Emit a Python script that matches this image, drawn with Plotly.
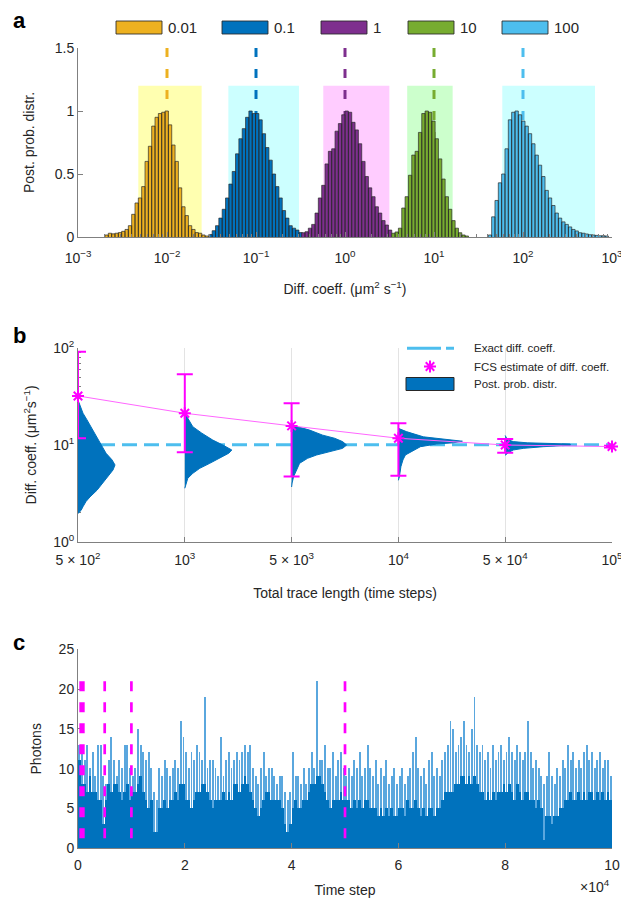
import plotly.graph_objects as go

FONT = "Liberation Sans"
TXT = "#262626"
AXC = "#808080"
OFF = 8                      # page body margin of the html page
W, H = 629 - OFF, 898 - OFF  # figure size
ML, MR = 78 - OFF, 629 - 612
PW = W - ML - MR

# ---------------- Panel a data ----------------
A_LABELS = ["0.01", "0.1", "1", "10", "100"]
A_TRUE = [0.01, 0.1, 1, 10, 100]
A_COLORS = ["#EDB120", "#0072BD", "#7E2F8E", "#77AC30", "#4DBEEE"]
A_SHADE = ["#FFFFB0", "#CCFFFF", "#FFCCFF", "#CCFFCC", "#CCFFFF"]
A_SHADE_LO = [0.00476, 0.0489, 0.57, 5.0, 58.5]
A_SHADE_HI = [0.0245, 0.304, 3.15, 16.2, 644.0]
A_SHADE_TOP = 1.2
A_BIN_START = [-2.697, -1.53, -0.487, 0.525, 1.610]   # log10 of first bin edge
A_BIN_WIDTH = 0.0375                                    # decades
A_HIST_001 = [0.016, 0.03, 0.025, 0.03, 0.035, 0.045, 0.06, 0.09, 0.18, 0.27, 0.31, 0.40,
              0.60, 0.72, 0.88, 0.95, 0.98, 0.99, 1.0, 0.89, 0.73, 0.60, 0.39, 0.24, 0.17,
              0.09, 0.06, 0.035, 0.03, 0.016, 0.008]
A_HIST_01 = [0.02, 0.05, 0.09, 0.15, 0.22, 0.31, 0.42, 0.52, 0.66, 0.78, 0.86, 0.95, 1.0,
             0.98, 0.98, 0.93, 0.82, 0.71, 0.61, 0.50, 0.40, 0.31, 0.21, 0.15, 0.09, 0.07,
             0.055, 0.035, 0.02]
A_HIST_1 = [0.034, 0.042, 0.07, 0.10, 0.19, 0.31, 0.41, 0.58, 0.68, 0.70, 0.84, 0.90, 0.97,
            1.0, 0.99, 0.91, 0.85, 0.74, 0.60, 0.48, 0.39, 0.32, 0.24, 0.19, 0.13, 0.095, 0.055]
A_HIST_10 = [0.03, 0.04, 0.07, 0.23, 0.32, 0.49, 0.65, 0.68, 0.83, 0.98, 1.0, 0.99, 0.92,
             0.78, 0.62, 0.46, 0.32, 0.22, 0.13, 0.07, 0.034, 0.016, 0.008]
A_HIST_100 = [0.016, 0.16, 0.29, 0.43, 0.50, 0.70, 0.93, 0.99, 1.0, 0.97, 0.92, 0.88, 0.82,
              0.74, 0.65, 0.57, 0.48, 0.37, 0.31, 0.25, 0.19, 0.15, 0.12, 0.10, 0.08, 0.06,
              0.048, 0.034, 0.03, 0.024, 0.018, 0.016, 0.013, 0.01, 0.01, 0.008]
A_HISTS = [A_HIST_001, A_HIST_01, A_HIST_1, A_HIST_10, A_HIST_100]
A_XTICKS = [1e-3, 1e-2, 1e-1, 1e0, 1e1, 1e2, 1e3]
A_XTICKTEXT = ["10<sup>−3</sup>", "10<sup>−2</sup>", "10<sup>−1</sup>", "10<sup>0</sup>",
               "10<sup>1</sup>", "10<sup>2</sup>", "10<sup>3</sup>"]

# ---------------- Panel b data ----------------
B_LENGTHS = [500, 1000, 5000, 10000, 50000, 100000]
B_TICKTEXT = ["5 × 10<sup>2</sup>", "10<sup>3</sup>", "5 × 10<sup>3</sup>", "10<sup>4</sup>",
              "5 × 10<sup>4</sup>", "10<sup>5</sup>"]
B_EXACT = 10.0
B_FCS = [32.0, 21.2, 15.7, 11.7, 9.96, 9.6]
B_FCS_HI = [91.6, 53.5, 26.9, 16.7, 11.5, 9.8]
B_FCS_LO = [11.7, 8.4, 4.7, 4.8, 8.3, 9.4]
# posterior histograms (value, relative density) for the first five trace lengths
B_HIST_D = [
    [29.0, 21.2, 18.1, 14.2, 11.2, 9.6, 8.2, 7.0, 6.2, 5.5, 4.7, 4.0, 3.4, 2.9, 2.6, 2.3, 2.1, 1.96],
    [21.2, 18.1, 15.4, 13.2, 11.2, 9.96, 8.85, 8.2, 7.26, 6.45, 5.73, 5.08, 4.52, 4.0, 3.56],
    [16.0, 14.2, 12.6, 11.7, 10.8, 9.96, 9.2, 8.5, 7.86, 7.26, 6.45, 5.5, 4.7, 4.04, 3.67],
    [14.8, 13.7, 12.1, 11.2, 10.9, 10.5, 10.2, 9.57, 8.5, 7.86, 6.98, 5.95, 4.69, 4.3],
    [12.5, 11.4, 10.8, 10.5, 10.2, 9.9, 9.57, 9.2, 8.85, 8.3, 7.8],
]
B_HIST_W = [
    [0, 5, 9, 15, 20, 24, 28, 34, 37, 35, 30, 25, 19, 12, 8, 5, 3, 0],
    [0, 4, 8, 17, 28, 38, 47, 44, 35, 25, 15, 8, 3, 1.5, 0],
    [0, 18, 31, 43, 51, 55, 51, 38, 25, 16, 8, 5, 2, 0.5, 0],
    [0, 8, 25, 50, 64, 55, 38, 22, 12, 7, 4.5, 2.5, 1, 0],
    [0, 2, 8, 22, 65, 65, 38, 18, 8, 3, 0],
]
B_HIST_SCALE = 1 / 106.8

# ---------------- Panel c data ----------------
C_BIN = 500
C_MAX = [13, 12, 11, 13, 10, 12, 9, 13, 13, 9,
         8, 11, 14, 11, 9, 11, 10, 13, 13, 10,
         9, 10, 15, 13, 12, 11, 12, 10, 7, 6,
         10, 9, 11, 10, 9, 10, 11, 10, 16, 14,
         12, 10, 12, 11, 13, 12, 11, 19, 10, 11,
         11, 10, 9, 14, 9, 11, 12, 10, 11, 12,
         11, 12, 13, 12, 13, 10, 9, 8, 10, 12,
         9, 10, 10, 9, 8, 9, 9, 7, 6, 7,
         12, 9, 9, 8, 10, 8, 10, 12, 10, 21,
         11, 11, 13, 10, 10, 12, 9, 11, 12, 10,
         9, 10, 9, 11, 10, 12, 9, 10, 13, 10,
         9, 11, 8, 10, 9, 11, 8, 9, 10, 8,
         9, 10, 8, 9, 10, 12, 14, 10, 9, 10,
         8, 11, 12, 9, 10, 9, 11, 12, 13, 16,
         15, 12, 13, 14, 16, 13, 12, 15, 19, 13,
         12, 13, 11, 12, 10, 13, 11, 12, 13, 11,
         12, 14, 12, 11, 13, 12, 11, 12, 16, 12,
         10, 11, 10, 9, 8, 9, 12, 9, 8, 10,
         9, 11, 10, 13, 11, 12, 10, 11, 10, 12,
         13, 11, 12, 10, 11, 12, 10, 11, 11, 9]
C_DARK = [11, 8, 8, 7, 9, 7, 7, 6, 6, 3,
          6, 8, 7, 8, 8, 7, 6, 7, 8, 6,
          7, 7, 8, 9, 7, 6, 5, 6, 2, 2,
          5, 5, 6, 5, 6, 6, 7, 6, 8, 8,
          6, 6, 5, 6, 7, 7, 8, 8, 7, 6,
          5, 6, 6, 6, 7, 6, 7, 6, 8, 8,
          7, 8, 9, 8, 7, 6, 5, 4, 5, 6,
          7, 7, 6, 6, 6, 6, 5, 3, 2, 3,
          5, 6, 5, 5, 6, 6, 7, 8, 8, 9,
          9, 8, 7, 6, 5, 6, 6, 6, 7, 6,
          6, 6, 5, 6, 5, 6, 5, 6, 6, 5,
          5, 5, 4, 5, 4, 5, 4, 5, 4, 4,
          5, 5, 4, 6, 5, 5, 6, 5, 4, 5,
          4, 5, 5, 4, 5, 5, 6, 7, 7, 7,
          7, 8, 8, 9, 9, 8, 9, 8, 9, 8,
          7, 7, 6, 7, 6, 7, 6, 7, 7, 8,
          7, 8, 7, 6, 8, 7, 6, 7, 7, 6,
          6, 5, 6, 5, 1, 4, 4, 3, 4, 4,
          5, 5, 6, 6, 7, 6, 6, 7, 6, 7,
          6, 7, 7, 6, 7, 6, 7, 6, 7, 6]
C_MARKS = [500, 1000, 5000, 10000, 50000]
C_MARK_TOP = 21
C_XTICKS = [0, 20000, 40000, 60000, 80000, 100000]
C_XTICKTEXT = ["0", "2", "4", "6", "8", "10"]


def px_x(X):
    """page pixel x -> paper fraction"""
    return (X - OFF - ML) / PW


def px_y(Y):
    """page pixel y -> paper fraction"""
    return 1 - (Y - OFF) / H


fig = go.Figure()

# ---------- panel a ----------
for lo, hi, col in zip(A_SHADE_LO, A_SHADE_HI, A_SHADE):
    fig.add_trace(go.Scatter(x=[lo, hi, hi, lo, lo], y=[0, 0, A_SHADE_TOP, A_SHADE_TOP, 0],
                             mode="lines", fill="toself", fillcolor=col, line=dict(width=0),
                             hoverinfo="skip", showlegend=False, xaxis="x", yaxis="y"))
for v, col in zip(A_TRUE, A_COLORS):
    fig.add_trace(go.Scatter(x=[v, v], y=[1.5, 0], mode="lines",
                             line=dict(color=col, width=3, dash="9px,12px"),
                             hoverinfo="skip", showlegend=False, xaxis="x", yaxis="y"))
for vals, start, col, lab in zip(A_HISTS, A_BIN_START, A_COLORS, A_LABELS):
    xs, ys = [], []
    for k, h in enumerate(vals):
        e0 = 10 ** (start + k * A_BIN_WIDTH)
        e1 = 10 ** (start + (k + 1) * A_BIN_WIDTH)
        xs += [e0, e0, e1, e1]
        ys += [0, h, h, 0]
    fig.add_trace(go.Scatter(x=xs, y=ys, mode="lines", fill="toself", fillcolor=col,
                             line=dict(color="rgba(40,40,40,0.85)", width=0.8),
                             name=lab, showlegend=False, xaxis="x", yaxis="y"))

# ---------- panel b ----------
fig.add_trace(go.Scatter(x=[0, len(B_LENGTHS) - 1], y=[B_EXACT, B_EXACT], mode="lines",
                         line=dict(color="#4DBEEE", width=3, dash="15px,7px"),
                         name="Exact diff. coeff.", showlegend=False, xaxis="x2", yaxis="y2"))
for i, (dv, wv) in enumerate(zip(B_HIST_D, B_HIST_W)):
    xs = [i] + [i + w * B_HIST_SCALE for w in wv] + [i]
    ys = [dv[0]] + dv + [dv[-1]]
    fig.add_trace(go.Scatter(x=xs, y=ys, mode="lines", fill="toself", fillcolor="#0072BD",
                             line=dict(color="#0072BD", width=1),
                             name="Post. prob. distr.", showlegend=False, xaxis="x2", yaxis="y2"))
fig.add_trace(go.Scatter(
    x=list(range(len(B_LENGTHS))), y=B_FCS, mode="lines+markers",
    line=dict(color="#FF66FF", width=1),
    marker=dict(symbol="asterisk", size=10, color="#FF00FF", line=dict(color="#FF00FF", width=2)),
    error_y=dict(type="data", symmetric=False,
                 array=[h - c for h, c in zip(B_FCS_HI, B_FCS)],
                 arrayminus=[c - l for c, l in zip(B_FCS, B_FCS_LO)],
                 color="#FF00FF", thickness=2, width=8),
    cliponaxis=False, name="FCS estimate of diff. coeff.", showlegend=False,
    xaxis="x2", yaxis="y2"))

# ---------- panel c ----------
centers = [C_BIN * i + C_BIN / 2 for i in range(len(C_MAX))]
fig.add_trace(go.Bar(x=centers, y=C_MAX, width=C_BIN * 0.35,
                     marker=dict(color="#5AA7DE", line=dict(width=0)),
                     showlegend=False, xaxis="x3", yaxis="y3"))
fig.add_trace(go.Bar(x=centers, y=C_DARK, width=C_BIN,
                     marker=dict(color="#0072BD", line=dict(width=0)),
                     showlegend=False, xaxis="x3", yaxis="y3"))
for t in C_MARKS:
    fig.add_trace(go.Scatter(x=[t, t], y=[C_MARK_TOP, 0], mode="lines",
                             line=dict(color="#FF00FF", width=2.7, dash="10px,11px"),
                             hoverinfo="skip", showlegend=False, xaxis="x3", yaxis="y3"))

# ---------- legend marker for panel b (pixel overlay axis) ----------
fig.add_trace(go.Scatter(x=[430], y=[366.5], mode="markers",
                         marker=dict(symbol="asterisk", size=10, color="#FF00FF",
                                     line=dict(color="#FF00FF", width=2)),
                         showlegend=False, hoverinfo="skip", xaxis="x4", yaxis="y4"))

tickfont = dict(family=FONT, size=14, color=TXT)
titlefont = dict(family=FONT, size=14, color=TXT)


def ax(**kw):
    d = dict(showline=True, linecolor=AXC, linewidth=1, ticks="inside", ticklen=5,
             tickwidth=1, tickcolor=AXC, tickfont=tickfont, showgrid=False, zeroline=False,
             automargin=False)
    d.update(kw)
    return d


minor_a = [k * 10 ** n for n in range(-3, 3) for k in range(2, 10)]
minor_b = [k * 10 ** n for n in range(0, 2) for k in range(2, 10)]

shapes = []
annotations = []
# panel a legend
A_LEG_X0 = [116, 222, 321, 408, 502]
for x0, col, lab in zip(A_LEG_X0, A_COLORS, A_LABELS):
    shapes.append(dict(type="rect", xref="paper", yref="paper", x0=px_x(x0), x1=px_x(x0 + 46),
                       y0=px_y(34), y1=px_y(21), fillcolor=col,
                       line=dict(color="rgba(40,40,40,0.85)", width=1)))
    annotations.append(dict(xref="paper", yref="paper", x=px_x(x0 + 50), y=px_y(27.5),
                            text=lab, showarrow=False, xanchor="left", yanchor="middle",
                            font=dict(family=FONT, size=15, color=TXT)))
# panel b legend
shapes.append(dict(type="line", xref="paper", yref="paper", x0=px_x(407), x1=px_x(454),
                   y0=px_y(348.3), y1=px_y(348.3), line=dict(color="#4DBEEE", width=3, dash="34px,5px")))
shapes.append(dict(type="rect", xref="paper", yref="paper", x0=px_x(406), x1=px_x(454),
                   y0=px_y(390.5), y1=px_y(377.5), fillcolor="#0072BD",
                   line=dict(color="#262626", width=1)))
for txt, yy in [("Exact diff. coeff.", 348.3), ("FCS estimate of diff. coeff.", 366.5),
                ("Post. prob. distr.", 384)]:
    annotations.append(dict(xref="paper", yref="paper", x=px_x(472), y=px_y(yy), text=txt,
                            showarrow=False, xanchor="left", yanchor="middle",
                            font=dict(family=FONT, size=11.5, color=TXT)))
# panel letters
for let, yy in [("a", 20), ("b", 335), ("c", 642)]:
    annotations.append(dict(xref="paper", yref="paper", x=px_x(11), y=px_y(yy), text=f"<b>{let}</b>",
                            showarrow=False, xanchor="left", yanchor="middle",
                            font=dict(family=FONT, size=22, color="#000000")))
# x10^4
annotations.append(dict(xref="paper", yref="paper", x=1.0, y=px_y(886), text="×10<sup>4</sup>",
                        showarrow=False, xanchor="right", yanchor="middle", font=titlefont))

fig.update_layout(
    width=W, height=H, margin=dict(l=ML, r=MR, t=0, b=0),
    paper_bgcolor="white", plot_bgcolor="rgba(0,0,0,0)",
    barmode="overlay", bargap=0, showlegend=False,
    font=dict(family=FONT, color=TXT),
    xaxis=ax(type="log", range=[-3, 3], domain=[0, 1], anchor="y",
             tickvals=A_XTICKS, ticktext=A_XTICKTEXT, ticklabelstandoff=8,
             minor=dict(tickvals=minor_a, ticks="inside", ticklen=3, tickcolor=AXC),
             title=dict(text="Diff. coeff. (μm<sup>2</sup> s<sup>−1</sup>)", font=titlefont, standoff=19)),
    yaxis=ax(range=[0, 1.5], domain=[px_y(237), px_y(48)], anchor="x",
             tickvals=[0, 0.5, 1, 1.5], ticktext=["0", "0.5", "1", "1.5"],
             title=dict(text="Post. prob. distr.", font=titlefont, standoff=16)),
    xaxis2=ax(range=[0, 5], domain=[0, 1], anchor="y2", tickvals=list(range(6)),
              ticktext=B_TICKTEXT, showgrid=True, gridcolor="#E3E3E3", gridwidth=1,
              ticklabelstandoff=5,
              title=dict(text="Total trace length (time steps)", font=titlefont, standoff=21)),
    yaxis2=ax(type="log", range=[0, 2], domain=[px_y(541.7), px_y(348)], anchor="x2",
              tickvals=[1, 10, 100], ticktext=["10<sup>0</sup>", "10<sup>1</sup>", "10<sup>2</sup>"],
              minor=dict(tickvals=minor_b, ticks="inside", ticklen=3, tickcolor=AXC),
              layer="below traces",
              title=dict(text="Diff. coeff. (μm<sup>2</sup>s<sup>−1</sup>)", font=titlefont, standoff=13)),
    xaxis3=ax(range=[0, 100000], domain=[0, 1], anchor="y3", tickvals=C_XTICKS, ticktext=C_XTICKTEXT,
              ticklabelstandoff=4,
              title=dict(text="Time step", font=titlefont, standoff=13)),
    yaxis3=ax(range=[0, 25], domain=[px_y(848.3), px_y(649.3)], anchor="x3",
              tickvals=[0, 5, 10, 15, 20, 25], layer="below traces",
              title=dict(text="Photons", font=titlefont, standoff=13)),
    xaxis4=dict(range=[78, 612], domain=[0, 1], anchor="y4", visible=False, fixedrange=True),
    yaxis4=dict(range=[898, OFF], domain=[0, 1], anchor="x4", visible=False, fixedrange=True),
    shapes=shapes, annotations=annotations,
)

fig.write_html("out.html")
